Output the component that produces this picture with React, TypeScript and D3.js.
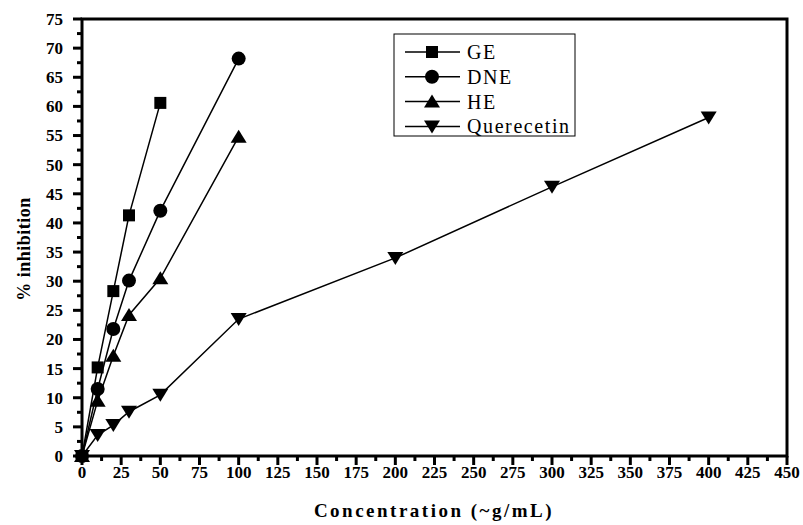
import React, { useRef, useEffect } from 'react';
import * as d3 from 'd3';

// concentrations (~g/mL) and % inhibition for each extract
const geX = [0, 10, 20, 30, 50];
const geY = [0, 15.2, 28.3, 41.3, 60.6];
const dneX = [0, 10, 20, 30, 50, 100];
const dneY = [0, 11.5, 21.8, 30.1, 42.1, 68.2];
const heX = [0, 10, 20, 30, 50, 100];
const heY = [0, 9.5, 17.2, 24.2, 30.5, 54.8];
const qX = [0, 10, 20, 30, 50, 100, 200, 300, 400];
const qY = [0, 3.6, 5.3, 7.6, 10.5, 23.5, 34.0, 46.2, 58.1];

const seriesNames = ['GE', 'DNE', 'HE', 'Querecetin'];
const xTicks = d3.range(0, 451, 25);
const yTicks = d3.range(0, 76, 5);

const W = 803;
const H = 525;

const App: React.FC = () => {
  const svgRef = useRef<SVGSVGElement>(null);

  useEffect(() => {
    if (!svgRef.current) return;
    const svg = d3.select(svgRef.current);
    svg.selectAll('*').remove();

    const left = 82, right = 787, top = 19, bottom = 456;
    const x = d3.scaleLinear().domain([0, 450]).range([left, right]);
    const y = d3.scaleLinear().domain([0, 75]).range([bottom, top]);

    const series = [
      { name: seriesNames[0], xs: geX, ys: geY, shape: 'square' },
      { name: seriesNames[1], xs: dneX, ys: dneY, shape: 'circle' },
      { name: seriesNames[2], xs: heX, ys: heY, shape: 'up' },
      { name: seriesNames[3], xs: qX, ys: qY, shape: 'down' },
    ];

    const drawMarker = (g: d3.Selection<SVGGElement, unknown, null, undefined>, shape: string, cx: number, cy: number) => {
      if (shape === 'square') {
        g.append('rect').attr('x', cx - 6).attr('y', cy - 6).attr('width', 12).attr('height', 12).attr('fill', '#000');
      } else if (shape === 'circle') {
        g.append('circle').attr('cx', cx).attr('cy', cy).attr('r', 7).attr('fill', '#000');
      } else if (shape === 'up') {
        g.append('path').attr('d', `M${cx},${cy - 7}L${cx + 8},${cy + 6}L${cx - 8},${cy + 6}Z`).attr('fill', '#000');
      } else {
        g.append('path').attr('d', `M${cx},${cy + 7}L${cx + 8},${cy - 6}L${cx - 8},${cy - 6}Z`).attr('fill', '#000');
      }
    };

    const line = d3.line<[number, number]>().x(d => x(d[0])).y(d => y(d[1]));
    const plot = svg.append('g');
    series.forEach(s => {
      const pts: [number, number][] = s.xs.map((v, i) => [v, s.ys[i]]);
      plot.append('path').attr('d', line(pts)).attr('fill', 'none').attr('stroke', '#000').attr('stroke-width', 1.5);
      pts.forEach(p => drawMarker(plot, s.shape, x(p[0]), y(p[1])));
    });

    // frame
    svg.append('rect')
      .attr('x', left).attr('y', top).attr('width', right - left).attr('height', bottom - top)
      .attr('fill', 'none').attr('stroke', '#000').attr('stroke-width', 3);

    const font = "'Liberation Serif', 'Times New Roman', serif";

    // x axis ticks
    const xMinor = d3.range(12.5, 450, 25);
    svg.append('g').selectAll('line.maj').data(xTicks).enter().append('line')
      .attr('x1', d => x(d)).attr('x2', d => x(d)).attr('y1', bottom).attr('y2', bottom + 9)
      .attr('stroke', '#000').attr('stroke-width', 3);
    svg.append('g').selectAll('line.min').data(xMinor).enter().append('line')
      .attr('x1', d => x(d)).attr('x2', d => x(d)).attr('y1', bottom).attr('y2', bottom + 5)
      .attr('stroke', '#000').attr('stroke-width', 3);
    svg.append('g').selectAll('text').data(xTicks).enter().append('text')
      .attr('x', d => x(d)).attr('y', bottom + 22)
      .attr('text-anchor', 'middle').style('font-family', font).style('font-weight', 'bold').style('font-size', '17px')
      .text(d => String(d));

    // y axis ticks
    const yMinor = d3.range(2.5, 75, 5);
    svg.append('g').selectAll('line.maj').data(yTicks).enter().append('line')
      .attr('x1', left - 9).attr('x2', left).attr('y1', d => y(d)).attr('y2', d => y(d))
      .attr('stroke', '#000').attr('stroke-width', 3);
    svg.append('g').selectAll('line.min').data(yMinor).enter().append('line')
      .attr('x1', left - 5).attr('x2', left).attr('y1', d => y(d)).attr('y2', d => y(d))
      .attr('stroke', '#000').attr('stroke-width', 3);
    svg.append('g').selectAll('text').data(yTicks).enter().append('text')
      .attr('x', left - 19).attr('y', d => y(d)).attr('dy', '0.35em')
      .attr('text-anchor', 'end').style('font-family', font).style('font-weight', 'bold').style('font-size', '17px')
      .text(d => String(d));

    // axis titles
    svg.append('text')
      .attr('x', 434).attr('y', 517)
      .attr('text-anchor', 'middle').style('font-family', font).style('font-weight', 'bold')
      .style('font-size', '19px').style('letter-spacing', '2.5px')
      .text('Concentration (~g/mL)');
    svg.append('text')
      .attr('transform', `translate(30,249) rotate(-90)`)
      .attr('text-anchor', 'middle').style('font-family', font).style('font-weight', 'bold')
      .style('font-size', '18px').style('letter-spacing', '0.5px')
      .text('% inhibition');

    // legend
    const lg = svg.append('g');
    lg.append('rect').attr('x', 394).attr('y', 34).attr('width', 181).attr('height', 102)
      .attr('fill', '#fff').attr('stroke', '#000').attr('stroke-width', 1);
    series.forEach((s, i) => {
      const ly = 52 + i * 24.8;
      lg.append('line').attr('x1', 405).attr('x2', 460).attr('y1', ly).attr('y2', ly)
        .attr('stroke', '#000').attr('stroke-width', 1.5);
      drawMarker(lg, s.shape, 432, ly);
      lg.append('text').attr('x', 467).attr('y', ly).attr('dy', '0.35em')
        .style('font-family', font).style('font-size', '20px').style('letter-spacing', '1.6px')
        .text(s.name);
    });
  }, []);

  return (
    <svg ref={svgRef} width={W} height={H} viewBox={`0 0 ${W} ${H}`}
      style={{ position: 'absolute', left: 0, top: 0, background: '#fff' }} />
  );
};

export default App;
